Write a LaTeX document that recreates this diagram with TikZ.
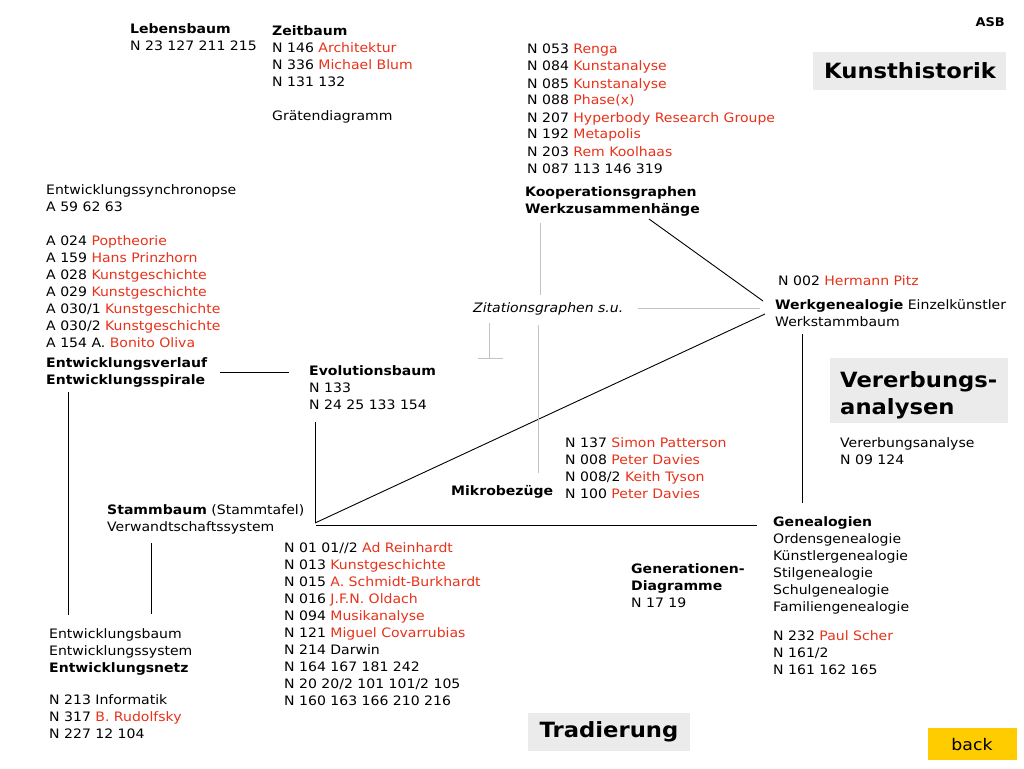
\documentclass[tikz,border=0pt]{standalone}
\usepackage{fontspec}
\setmainfont[FakeStretch=1.08]{DejaVu Sans}
\definecolor{lred}{RGB}{232,50,26}
\definecolor{boxgrey}{RGB}{235,235,235}
\definecolor{lgrey}{RGB}{195,195,195}
\definecolor{backyel}{RGB}{255,204,0}
\newcommand{\rd}[1]{\textcolor{lred}{#1}}
\newcommand{\blk}[1]{\begin{tabular}[t]{@{}l@{}}#1\end{tabular}}
\tikzset{
  txt/.style={font=\fontsize{13}{17}\selectfont, inner sep=0pt, anchor=base west},
  titlebox/.style={fill=boxgrey, draw=none},
  conn/.style={draw=black, line width=0.9pt},
  gconn/.style={draw=lgrey, line width=0.9pt},
}
\begin{document}
\begin{tikzpicture}[x=1pt,y=-1pt]
\path[fill=white,use as bounding box] (0,0) rectangle (1024,768);

% title boxes
\path[titlebox] (813,52) rectangle (1006,90);
\node[font=\fontsize{21}{25}\bfseries\selectfont, inner sep=0pt] (kunst) at (910,71) {Kunsthistorik};
\path[titlebox] (830,358) rectangle (1008,423);
\node[font=\fontsize{21}{27}\bfseries\selectfont, inner sep=0pt, anchor=base west] (vererb) at (840,387) {\begin{tabular}[t]{@{}l@{}}Vererbungs-\\analysen\end{tabular}};
\path[titlebox] (528,713) rectangle (690,751);
\node[font=\fontsize{21}{25}\bfseries\selectfont, inner sep=0pt] (trad) at (609,732) {Tradierung};
\path[fill=backyel] (928,728) rectangle (1017,760);
\node[font=\fontsize{16}{20}\selectfont, inner sep=0pt] (back) at (972,745) {back};
\node[font=\fontsize{12}{14}\bfseries\selectfont, inner sep=0pt, anchor=base east] (asb) at (1005,27) {ASB};

% text blocks
\node[txt] (leb) at (130,34) {\blk{\textbf{Lebensbaum}\\N 23 127 211 215}};
\node[txt] (zeit) at (272,36) {\blk{\textbf{Zeitbaum}\\N 146 \rd{Architektur}\\N 336 \rd{Michael Blum}\\N 131 132\\[17pt]Grätendiagramm}};
\node[txt] (koopN) at (527,54) {\blk{N 053 \rd{Renga}\\N 084 \rd{Kunstanalyse}\\N 085 \rd{Kunstanalyse}\\N 088 \rd{Phase(x)}\\N 207 \rd{Hyperbody Research Groupe}\\N 192 \rd{Metapolis}\\N 203 \rd{Rem Koolhaas}\\N 087 113 146 319}};
\node[txt, font=\fontsize{13}{17}\bfseries\selectfont] (koop) at (525,196) {\blk{Kooperationsgraphen\\Werkzusammenhänge}};
\node[txt] (synchr) at (46,194) {\blk{Entwicklungssynchronopse\\A 59 62 63\\[17pt]A 024 \rd{Poptheorie}\\A 159 \rd{Hans Prinzhorn}\\A 028 \rd{Kunstgeschichte}\\A 029 \rd{Kunstgeschichte}\\A 030/1 \rd{Kunstgeschichte}\\A 030/2 \rd{Kunstgeschichte}\\A 154 A. \rd{Bonito Oliva}}};
\node[txt, font=\fontsize{13}{17}\bfseries\selectfont] (verlauf) at (46,367) {\blk{Entwicklungsverlauf\\Entwicklungsspirale}};
\node[txt] (evol) at (309,375) {\blk{\textbf{Evolutionsbaum}\\N 133\\N 24 25 133 154}};
\node[txt, font=\fontsize{13}{17}\itshape\selectfont] (zit) at (473,312) {Zitationsgraphen s.u.};
\node[txt] (pitz) at (778,285) {N 002 \rd{Hermann Pitz}};
\node[txt] (werk) at (775,309) {\blk{\textbf{Werkgenealogie} Einzelkünstler\\Werkstammbaum}};
\node[txt] (verana) at (840,447) {\blk{Vererbungsanalyse\\N 09 124}};
\node[txt] (mikroN) at (565,447) {\blk{N 137 \rd{Simon Patterson}\\N 008 \rd{Peter Davies}\\N 008/2 \rd{Keith Tyson}\\N 100 \rd{Peter Davies}}};
\node[txt, font=\fontsize{13}{17}\bfseries\selectfont] (mikro) at (451,495) {Mikrobezüge};
\node[txt] (stamm) at (107,514) {\blk{\textbf{Stammbaum} (Stammtafel)\\Verwandtschaftssystem}};
\node[txt] (stammN) at (284,552) {\blk{N 01 01//2 \rd{Ad Reinhardt}\\N 013 \rd{Kunstgeschichte}\\N 015 \rd{A. Schmidt-Burkhardt}\\N 016 \rd{J.F.N. Oldach}\\N 094 \rd{Musikanalyse}\\N 121 \rd{Miguel Covarrubias}\\N 214 Darwin\\N 164 167 181 242\\N 20 20/2 101 101/2 105\\N 160 163 166 210 216}};
\node[txt] (netz) at (49,638) {\blk{Entwicklungsbaum\\Entwicklungssystem\\\textbf{Entwicklungsnetz}\\[15pt]N 213 Informatik\\N 317 \rd{B. Rudolfsky}\\N 227 12 104}};
\node[txt] (geneal) at (773,526) {\blk{\textbf{Genealogien}\\Ordensgenealogie\\Künstlergenealogie\\Stilgenealogie\\Schulgenealogie\\Familiengenealogie\\[12pt]N 232 \rd{Paul Scher}\\N 161/2\\N 161 162 165}};
\node[txt] (gendiag) at (631,573) {\blk{\textbf{Generationen-}\\\textbf{Diagramme}\\N 17 19}};

% connector end points
\coordinate (c1a) at (220,372); \coordinate (c1b) at (289,372);
\coordinate (c2a) at (68,392);  \coordinate (c2b) at (68,615);
\coordinate (c3a) at (151,543); \coordinate (c3b) at (151,614);
\coordinate (c4a) at (315,422); \coordinate (c4b) at (315,523);
\coordinate (c5s) at (316,525); \coordinate (c5a) at (757,525);
\coordinate (c6b) at (765,314);
\coordinate (c7a) at (649,219); \coordinate (c7b) at (763,301);
\coordinate (c8a) at (802,334); \coordinate (c8b) at (802,503);
\coordinate (g1a) at (540,223); \coordinate (g1b) at (540,295);
\coordinate (g2a) at (638,308); \coordinate (g2b) at (760,308);
\coordinate (g3a) at (489,323); \coordinate (g3b) at (489,358);
\coordinate (g4a) at (478,358); \coordinate (g4b) at (503,358);
\coordinate (g5a) at (538,325); \coordinate (g5b) at (538,473);

\draw[conn] (c1a) -- (c1b);
\draw[conn] (c2a) -- (c2b);
\draw[conn] (c3a) -- (c3b);
\draw[conn] (c4a) -- (c4b);
\draw[conn] (c5s) -- (c5a);
\draw[conn] (c4b) -- (c6b);
\draw[conn] (c7a) -- (c7b);
\draw[conn] (c8a) -- (c8b);
\draw[gconn] (g1a) -- (g1b);
\draw[gconn] (g2a) -- (g2b);
\draw[gconn] (g3a) -- (g3b);
\draw[gconn] (g4a) -- (g4b);
\draw[gconn] (g5a) -- (g5b);
\end{tikzpicture}
\end{document}
